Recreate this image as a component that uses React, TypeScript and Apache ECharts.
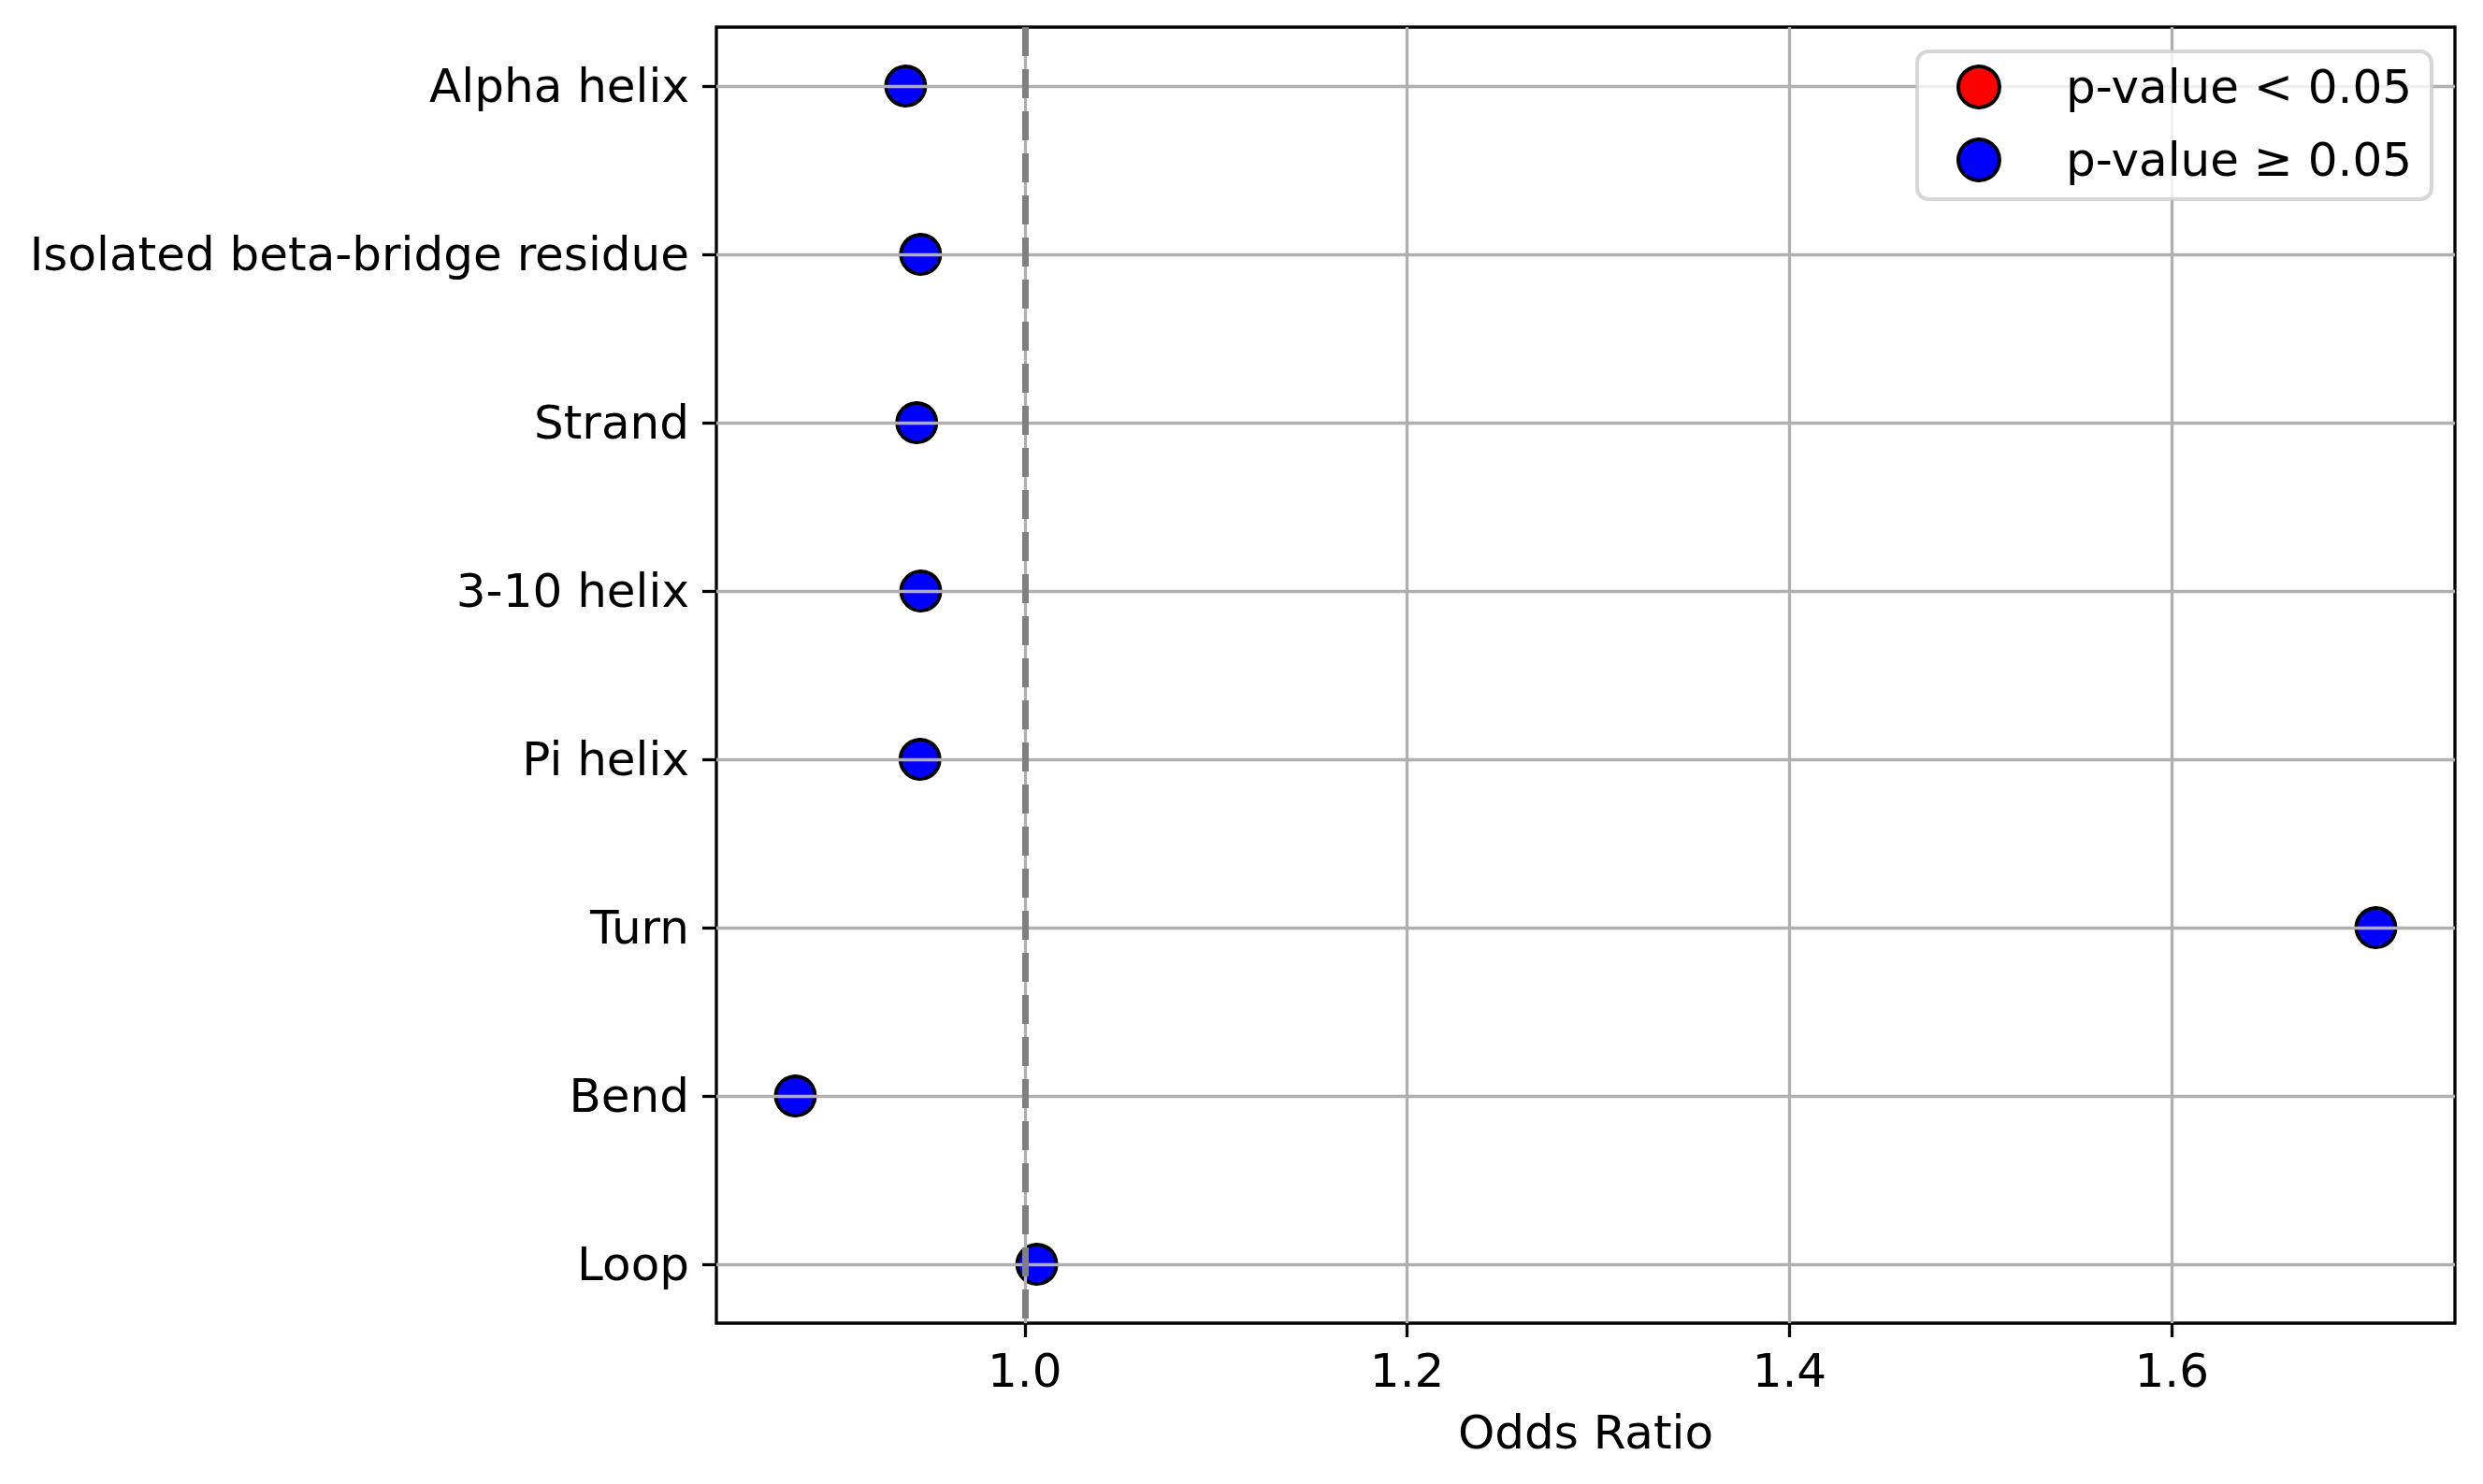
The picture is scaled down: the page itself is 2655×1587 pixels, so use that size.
import React, { useEffect, useRef } from "react";
import * as echarts from "echarts";

const categories = [
  "Alpha helix",
  "Isolated beta-bridge residue",
  "Strand",
  "3-10 helix",
  "Pi helix",
  "Turn",
  "Bend",
  "Loop",
];
const oddsRatios = [0.9377, 0.9455, 0.9435, 0.9456, 0.9452, 1.7068, 0.88, 1.0063];
const significant = [false, false, false, false, false, false, false, false];
const xTicks = [1.0, 1.2, 1.4, 1.6];
const referenceOR = 1.0;
const legendNames = ["p-value < 0.05", "p-value \u2265 0.05"];
const legendColors = ["#ff0000", "#0000ff"];

const FONT = "DejaVu Sans";

export default function App() {
  const ref = useRef<HTMLDivElement>(null);

  useEffect(() => {
    if (!ref.current) return;
    const chart = echarts.init(ref.current, undefined, { renderer: "svg" });

    const dmin = Math.min(...oddsRatios);
    const dmax = Math.max(...oddsRatios);
    const pad = (dmax - dmin) * 0.05;
    const yIdx = categories.map((_, i) => i);

    const sigData: number[][] = [];
    const nonSigData: number[][] = [];
    oddsRatios.forEach((v, i) => {
      (significant[i] ? sigData : nonSigData).push([v, i]);
    });

    const gridColor = "#b0b0b0";

    chart.setOption({
      animation: false,
      backgroundColor: "#ffffff",
      grid: {
        left: 766,
        top: 29,
        width: 1859,
        height: 1386,
        show: true,
        borderColor: "#000000",
        borderWidth: 3.3,
        backgroundColor: "transparent",
      },
      xAxis: {
        type: "value",
        min: dmin - pad,
        max: dmax + pad,
        splitNumber: 4,
        z: 3,
        name: "Odds Ratio",
        nameLocation: "middle",
        nameGap: 92,
        nameTextStyle: { fontFamily: FONT, fontSize: 50, color: "#000000" },
        axisLine: { show: false, onZero: false },
        axisTick: {
          show: true,
          customValues: xTicks,
          length: 15,
          lineStyle: { color: "#000000", width: 3.3 },
        },
        axisLabel: {
          customValues: xTicks,
          margin: 26,
          fontFamily: FONT,
          fontSize: 50,
          color: "#000000",
          formatter: (v: number) => v.toFixed(1),
        },
        splitLine: {
          show: true,
          customValues: xTicks,
          showMinLine: true,
          showMaxLine: true,
          lineStyle: { color: gridColor, width: 3.3 },
        },
      },
      yAxis: {
        type: "value",
        inverse: true,
        min: -0.35,
        max: categories.length - 1 + 0.35,
        splitNumber: 8,
        z: 3,
        axisLine: { show: false, onZero: false },
        axisTick: {
          show: true,
          customValues: yIdx,
          length: 15,
          lineStyle: { color: "#000000", width: 3.3 },
        },
        axisLabel: {
          customValues: yIdx,
          margin: 29,
          fontFamily: FONT,
          fontSize: 50,
          color: "#000000",
          formatter: (v: number) => categories[Math.round(v)] ?? "",
        },
        splitLine: {
          show: true,
          customValues: yIdx,
          showMinLine: true,
          showMaxLine: true,
          lineStyle: { color: gridColor, width: 3.3 },
        },
      },
      legend: {
        orient: "vertical",
        right: 55,
        top: 55,
        padding: [13, 21, 17, 42],
        itemWidth: 44,
        itemHeight: 44,
        itemGap: 28,
        backgroundColor: "rgba(255,255,255,0.8)",
        borderColor: "rgba(204,204,204,0.8)",
        borderWidth: 4,
        borderRadius: 12,
        textStyle: {
          fontFamily: FONT,
          fontSize: 50,
          lineHeight: 44,
          color: "#000000",
          padding: [0, 0, 0, 66],
        },
        data: legendNames.map((n, i) => ({
          name: n,
          icon: "circle",
          itemStyle: { color: legendColors[i], borderColor: "#000000", borderWidth: 4 },
        })),
      },
      series: [
        {
          name: legendNames[0],
          type: "scatter",
          data: sigData,
          symbol: "circle",
          symbolSize: 42,
          z: 2,
          itemStyle: { color: legendColors[0], borderColor: "#000000", borderWidth: 4, opacity: 1 },
        },
        {
          name: legendNames[1],
          type: "scatter",
          data: nonSigData,
          symbol: "circle",
          symbolSize: 42,
          z: 2,
          itemStyle: { color: legendColors[1], borderColor: "#000000", borderWidth: 4, opacity: 1 },
          markLine: {
            silent: true,
            symbol: ["none", "none"],
            z: 5,
            label: { show: false },
            lineStyle: { color: "#808080", width: 7, type: [31, 14] },
            data: [{ xAxis: referenceOR }],
          },
        },
      ],
    });

    return () => chart.dispose();
  }, []);

  return (
    <div
      ref={ref}
      style={{ position: "absolute", left: 0, top: 0, width: 2655, height: 1587 }}
    />
  );
}
